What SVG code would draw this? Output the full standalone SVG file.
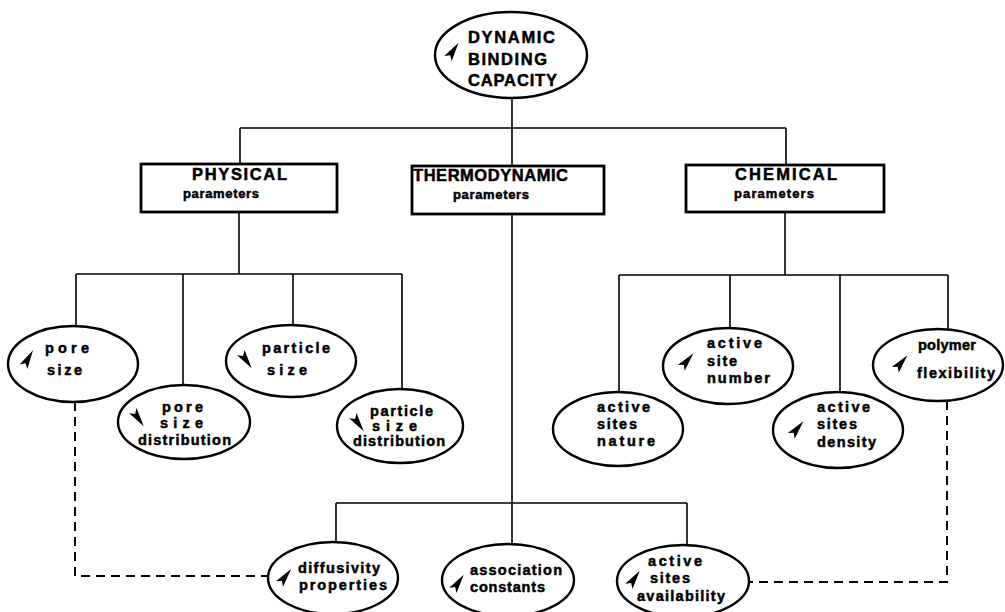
<svg xmlns="http://www.w3.org/2000/svg" width="1005" height="612" viewBox="0 0 1005 612">
<style>
.bg{fill:#fff}
.ell{fill:#fff;stroke:#000;stroke-width:2.4}
.box{fill:#fff;stroke:#000;stroke-width:2.8}
.ln{fill:none;stroke:#000;stroke-width:1.6}
.dash{fill:none;stroke:#000;stroke-width:1.9;stroke-dasharray:9 6}
text{font-family:"Liberation Sans",Arial,sans-serif;font-weight:bold;fill:#000;stroke:#000;stroke-width:0.5;stroke-linejoin:round}
.cap{font-size:16.5px}
.bcap{font-size:16.5px}
.lc{font-size:14.5px}
.par{font-size:13px}
</style>
<defs>
<path id="dart" d="M0,-10 L4.5,9 L0,5 L-4.5,9 Z" fill="#000"/>
</defs>
<rect class="bg" x="0" y="0" width="1005" height="612"/>
<g id="connectors">
<path class="ln" d="M512 97 V128 M240 128 H786 M240 128 V164 M512 128 V166 M786 128 V166"/>
<path class="ln" d="M239 212 V274 M76 274 H402 M76 274 V326 M183 274 V385 M293 274 V326 M402 274 V390"/>
<path class="ln" d="M512 214 V559 M336 503 H687 M336 503 V542 M687 503 V545"/>
<path class="ln" d="M785 212 V275 M619 275 H948 M619 275 V392 M730 275 V328 M840 275 V392 M948 275 V330"/>
<path class="dash" d="M75 402 V576 H268"/>
<path class="dash" d="M947 401 V582 H749"/>
</g>
<g id="dynamic-binding-capacity">
<ellipse class="ell" cx="511" cy="55" rx="76" ry="43"/>
<use href="#dart" transform="translate(453 51) rotate(34)"/>
<text class="cap" x="468" y="43" textLength="87" lengthAdjust="spacing">DYNAMIC</text>
<text class="cap" x="468" y="65" textLength="79" lengthAdjust="spacing">BINDING</text>
<text class="cap" x="468" y="86" textLength="89" lengthAdjust="spacing">CAPACITY</text>
</g>
<g id="physical">
<rect class="box" x="141" y="164" width="196" height="48"/>
<text class="bcap" x="192" y="180" textLength="95" lengthAdjust="spacing">PHYSICAL</text>
<text class="par" x="183" y="198" textLength="76" lengthAdjust="spacing">parameters</text>
</g>
<g id="thermodynamic">
<rect class="box" x="412" y="166" width="192" height="48"/>
<text class="bcap" x="413" y="181" textLength="155" lengthAdjust="spacing">THERMODYNAMIC</text>
<text class="par" x="453" y="199" textLength="76" lengthAdjust="spacing">parameters</text>
</g>
<g id="chemical">
<rect class="box" x="686" y="165" width="198" height="47"/>
<text class="bcap" x="735" y="180" textLength="102" lengthAdjust="spacing">CHEMICAL</text>
<text class="par" x="734" y="198" textLength="80" lengthAdjust="spacing">parameters</text>
</g>
<g id="pore-size">
<ellipse class="ell" cx="73" cy="364" rx="65" ry="38"/>
<use href="#dart" transform="translate(28 359) rotate(30)"/>
<text class="lc" x="45" y="353" textLength="44" lengthAdjust="spacing">pore</text>
<text class="lc" x="47" y="375" textLength="35" lengthAdjust="spacing">size</text>
</g>
<g id="pore-size-distribution">
<ellipse class="ell" cx="184" cy="422" rx="66" ry="37"/>
<use href="#dart" transform="translate(138 418) rotate(145)"/>
<text class="lc" x="162" y="412" textLength="41" lengthAdjust="spacing">pore</text>
<text class="lc" x="160" y="428" textLength="43" lengthAdjust="spacing">size</text>
<text class="lc" x="138" y="445" textLength="93" lengthAdjust="spacing">distribution</text>
</g>
<g id="particle-size">
<ellipse class="ell" cx="291" cy="361" rx="65" ry="36"/>
<use href="#dart" transform="translate(246 360) rotate(145)"/>
<text class="lc" x="262" y="353" textLength="68" lengthAdjust="spacing">particle</text>
<text class="lc" x="267" y="375" textLength="40" lengthAdjust="spacing">size</text>
</g>
<g id="particle-size-distribution">
<ellipse class="ell" cx="400" cy="426" rx="63" ry="37"/>
<use href="#dart" transform="translate(358 423) rotate(145)"/>
<text class="lc" x="370" y="416" textLength="63" lengthAdjust="spacing">particle</text>
<text class="lc" x="372" y="431" textLength="45" lengthAdjust="spacing">size</text>
<text class="lc" x="353" y="446" textLength="92" lengthAdjust="spacing">distribution</text>
</g>
<g id="active-sites-nature">
<ellipse class="ell" cx="618" cy="429" rx="65" ry="37"/>
<text class="lc" x="597" y="412" textLength="53" lengthAdjust="spacing">active</text>
<text class="lc" x="597" y="429" textLength="40" lengthAdjust="spacing">sites</text>
<text class="lc" x="597" y="446" textLength="58" lengthAdjust="spacing">nature</text>
</g>
<g id="active-site-number">
<ellipse class="ell" cx="728" cy="366" rx="65" ry="38"/>
<use href="#dart" transform="translate(687 361) rotate(40)"/>
<text class="lc" x="707" y="348" textLength="55" lengthAdjust="spacing">active</text>
<text class="lc" x="707" y="366" textLength="30" lengthAdjust="spacing">site</text>
<text class="lc" x="707" y="383" textLength="63" lengthAdjust="spacing">number</text>
</g>
<g id="active-sites-density">
<ellipse class="ell" cx="838" cy="430" rx="65" ry="38"/>
<use href="#dart" transform="translate(797 429) rotate(40)"/>
<text class="lc" x="817" y="412" textLength="53" lengthAdjust="spacing">active</text>
<text class="lc" x="817" y="429" textLength="40" lengthAdjust="spacing">sites</text>
<text class="lc" x="817" y="447" textLength="59" lengthAdjust="spacing">density</text>
</g>
<g id="polymer-flexibility">
<ellipse class="ell" cx="938" cy="365" rx="65" ry="36"/>
<use href="#dart" transform="translate(901 363) rotate(40)"/>
<text class="lc" x="918" y="350" textLength="58" lengthAdjust="spacing">polymer</text>
<text class="lc" x="917" y="378" textLength="78" lengthAdjust="spacing">flexibility</text>
</g>
<g id="diffusivity-properties">
<ellipse class="ell" cx="333" cy="578" rx="65" ry="36"/>
<use href="#dart" transform="translate(285 577) rotate(38)"/>
<text class="lc" x="298" y="573" textLength="82" lengthAdjust="spacing">diffusivity</text>
<text class="lc" x="299" y="590" textLength="88" lengthAdjust="spacing">properties</text>
</g>
<g id="association-constants">
<ellipse class="ell" cx="508" cy="580" rx="66" ry="36"/>
<use href="#dart" transform="translate(458 583) rotate(35)"/>
<text class="lc" x="470" y="575" textLength="92" lengthAdjust="spacing">association</text>
<text class="lc" x="470" y="592" textLength="75" lengthAdjust="spacing">constants</text>
</g>
<g id="active-sites-availability">
<ellipse class="ell" cx="683" cy="581" rx="66" ry="36"/>
<use href="#dart" transform="translate(634 579) rotate(35)"/>
<text class="lc" x="648" y="566" textLength="54" lengthAdjust="spacing">active</text>
<text class="lc" x="650" y="583" textLength="40" lengthAdjust="spacing">sites</text>
<text class="lc" x="637" y="601" textLength="88" lengthAdjust="spacing">availability</text>
</g>
</svg>
